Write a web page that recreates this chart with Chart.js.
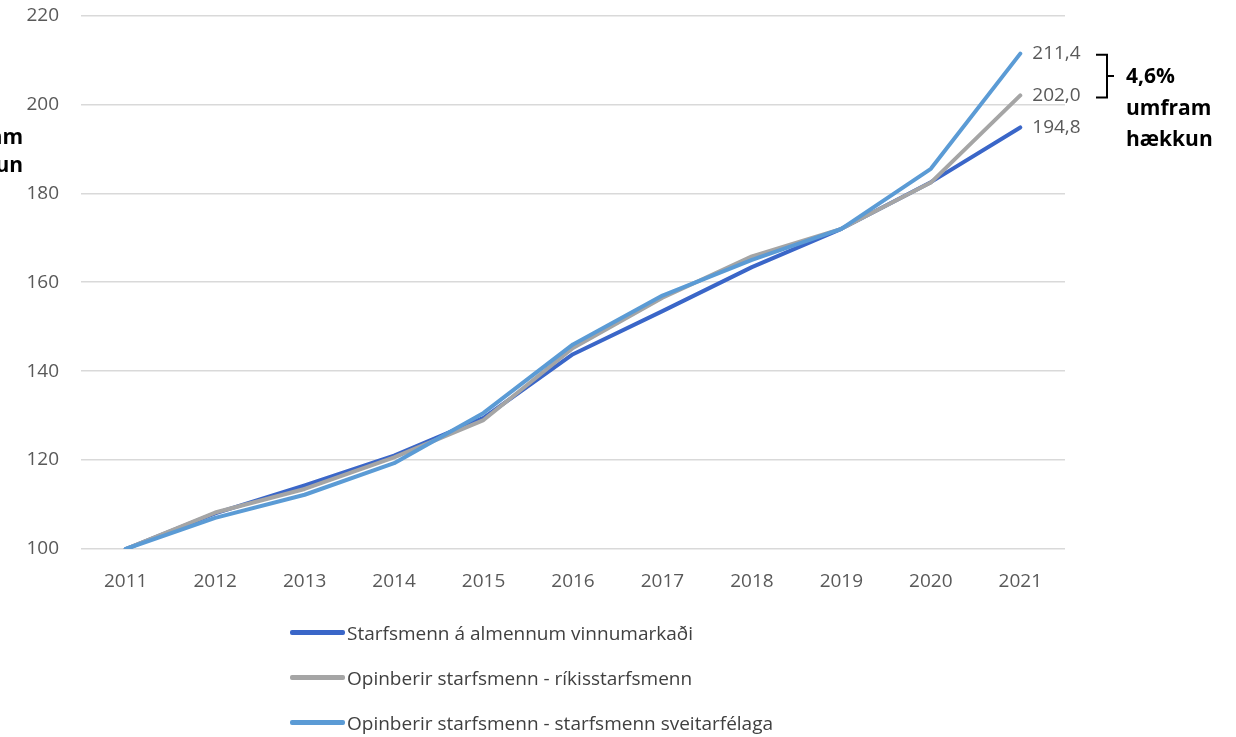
<!DOCTYPE html>
<html>
<head>
<meta charset="utf-8">
<script src="https://cdn.jsdelivr.net/npm/chart.js@4.4.0/dist/chart.umd.min.js"></script>
<style>
  html, body { margin: 0; padding: 0; background: #fff; }
  #wrap { position: relative; width: 1236px; height: 737px; overflow: hidden; }
  canvas { position: absolute; left: 0; top: -18px; }
  #legend { position: absolute; left: 290px; top: 610px; font-family: "Open Sans", sans-serif; font-size: 19px; color: #404040; }
  .item { display: flex; align-items: center; height: 45px; }
  .swatch { width: 55px; height: 5px; border-radius: 2px; margin-right: 2px; }
</style>
</head>
<body>
<div id="wrap">
  <canvas id="c" width="1236" height="755"></canvas>
  <div id="legend"></div>
</div>
<script>
const years = ["2011","2012","2013","2014","2015","2016","2017","2018","2019","2020","2021"];
const almennum = [100, 108, 114.3, 121, 129.5, 143.8, 153.5, 163.4, 172, 182.5, 194.8];
const rikis    = [100, 108.2, 113.5, 120.6, 129, 145.2, 156.5, 165.8, 172, 182.4, 202.0];
const sveitar  = [100, 107, 112.2, 119.3, 130.6, 146, 157, 165, 172, 185.5, 211.4];
const seriesNames = ["Starfsmenn á almennum vinnumarkaði", "Opinberir starfsmenn - ríkisstarfsmenn", "Opinberir starfsmenn - starfsmenn sveitarfélaga"];
const endLabels = ["194,8", "202,0", "211,4"];
const yTicks = [100, 120, 140, 160, 180, 200, 220];
const colors = ["#3a66c8", "#a5a5a5", "#5b9bd5"];

const FONT = '"Open Sans", sans-serif';
const SHIFT = 18;

const annot = {
  id: 'annot',
  afterDatasetsDraw(chart) {
    const ctx = chart.ctx;
    const xs = chart.scales.x, ys = chart.scales.y;
    ctx.save();
    ctx.font = '19px ' + FONT;
    ctx.fillStyle = '#595959';
    ctx.textAlign = 'left';
    ctx.textBaseline = 'middle';
    const last = years.length - 1;
    const data = [almennum, rikis, sveitar];
    data.forEach((d, i) => {
      const x = xs.getPixelForValue(last) + 12;
      const y = ys.getPixelForValue(d[last]);
      ctx.fillText(endLabels[i], x, y);
    });
    // bracket
    const yTop = ys.getPixelForValue(sveitar[last]) + 1;
    const yBot = ys.getPixelForValue(rikis[last]) + 2;
    const bx = 1107;
    ctx.strokeStyle = '#000';
    ctx.lineWidth = 2;
    ctx.beginPath();
    ctx.moveTo(bx - 11, yTop); ctx.lineTo(bx, yTop); ctx.lineTo(bx, yBot); ctx.lineTo(bx - 11, yBot);
    ctx.moveTo(bx, (yTop + yBot) / 2); ctx.lineTo(bx + 7, (yTop + yBot) / 2);
    ctx.stroke();
    ctx.fillStyle = '#000';
    ctx.font = 'bold 21px ' + FONT;
    ctx.fillText('4,6%', 1126, 77 + SHIFT);
    ctx.fillText('umfram', 1126, 109 + SHIFT);
    ctx.fillText('hækkun', 1126, 140 + SHIFT);
    // cut-off text at left edge
    ctx.textAlign = 'right';
    ctx.fillText('umfram', 23, 138 + SHIFT);
    ctx.fillText('hækkun', 23, 166 + SHIFT);
    ctx.restore();
  }
};

const chart = new Chart(document.getElementById('c'), {
  type: 'line',
  data: {
    labels: years,
    datasets: [
      { label: seriesNames[0], data: almennum, borderColor: colors[0], backgroundColor: colors[0], order: 2 },
      { label: seriesNames[1], data: rikis, borderColor: colors[1], backgroundColor: colors[1], order: 1 },
      { label: seriesNames[2], data: sveitar, borderColor: colors[2], backgroundColor: colors[2], order: 0 }
    ]
  },
  options: {
    responsive: false,
    animation: false,
    devicePixelRatio: 1,
    layout: { padding: { left: 0, right: 171, top: 1, bottom: 140 } },
    elements: {
      line: { borderWidth: 4, tension: 0, borderCapStyle: 'round', borderJoinStyle: 'round' },
      point: { radius: 0 }
    },
    plugins: { legend: { display: false }, tooltip: { enabled: false } },
    scales: {
      x: {
        offset: true,
        grid: { display: false },
        border: { display: false },
        ticks: { color: '#595959', font: { family: FONT, size: 19 }, padding: 13, maxRotation: 0 },
        afterFit(s) { s.height = 48; }
      },
      y: {
        min: 100, max: 220,
        afterBuildTicks(s) { s.ticks = yTicks.map(v => ({ value: v })); },
        grid: { color: '#d9d9d9', lineWidth: 1.5, drawTicks: false },
        border: { display: false },
        ticks: { color: '#595959', font: { family: FONT, size: 19 }, padding: 22 },
        afterFit(s) { s.width = 81; }
      }
    }
  },
  plugins: [annot]
});

const legend = document.getElementById('legend');
chart.data.datasets.forEach(ds => {
  const item = document.createElement('div');
  item.className = 'item';
  const sw = document.createElement('div');
  sw.className = 'swatch';
  sw.style.background = ds.borderColor;
  const t = document.createElement('span');
  t.textContent = ds.label;
  item.appendChild(sw); item.appendChild(t);
  legend.appendChild(item);
});
</script>
</body>
</html>
